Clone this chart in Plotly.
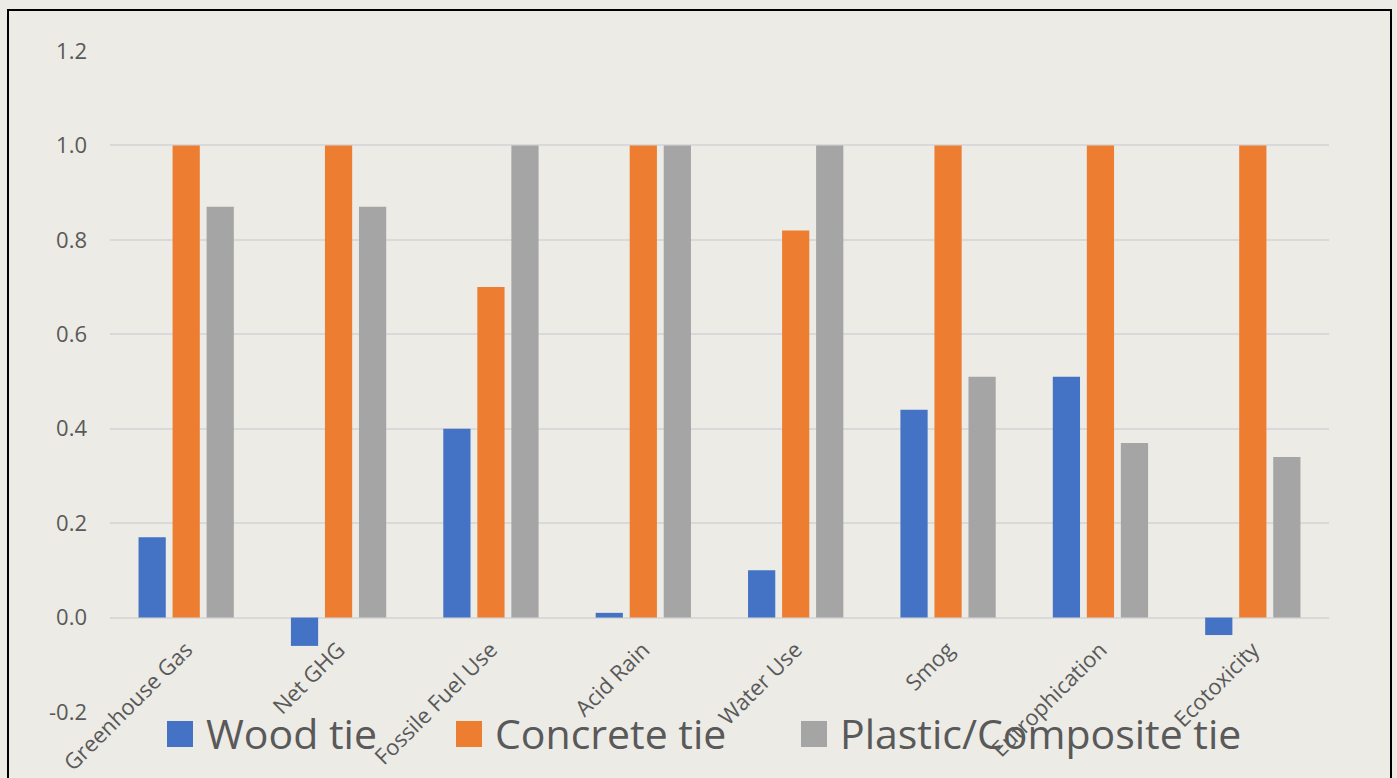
import plotly.graph_objects as go

categories = ["Greenhouse Gas", "Net GHG", "Fossile Fuel Use", "Acid Rain",
              "Water Use", "Smog", "Eutrophication", "Ecotoxicity"]
series_names = ["Wood tie", "Concrete tie", "Plastic/Composite tie"]
wood = [0.17, -0.06, 0.40, 0.01, 0.10, 0.44, 0.51, -0.037]
concrete = [1.0, 1.0, 0.70, 1.0, 0.82, 1.0, 1.0, 1.0]
plastic = [0.87, 0.87, 1.0, 1.0, 1.0, 0.51, 0.37, 0.34]
y_ticks = [-0.2, 0.0, 0.2, 0.4, 0.6, 0.8, 1.0, 1.2]
y_tick_text = [f"{v:.1f}" for v in y_ticks]

colors = ["#4472C4", "#ED7D31", "#A5A5A5"]
values = [wood, concrete, plastic]

W, H = 1397, 778
L, R, T, B = 110, 1329, 51, 712
pw, ph = R - L, B - T

def px_x(p):
    return (p - L) / pw

def px_y(p):
    return (B - p) / ph

fig = go.Figure()
for name, vals, c in zip(series_names, values, colors):
    fig.add_trace(go.Bar(x=categories, y=vals, name=name, marker_color=c,
                         marker_line_width=0, showlegend=False))

text_col = "#595959"
font_family = "Open Sans, Noto Sans, sans-serif"

shapes = [
    dict(type="rect", xref="paper", yref="paper",
         x0=px_x(8), x1=px_x(1391), y0=px_y(800), y1=px_y(10),
         line=dict(color="black", width=2), fillcolor="rgba(0,0,0,0)", layer="above"),
]
annotations = []
leg_x = [167, 456, 801]
for name, c, xs in zip(series_names, colors, leg_x):
    shapes.append(dict(type="rect", xref="paper", yref="paper",
                       x0=px_x(xs), x1=px_x(xs + 26), y0=px_y(747), y1=px_y(721),
                       line=dict(width=0), fillcolor=c, layer="above"))
    annotations.append(dict(text=name, xref="paper", yref="paper",
                            x=px_x(xs + 37), y=px_y(733), xanchor="left", yanchor="middle",
                            showarrow=False,
                            font=dict(size=41, color=text_col, family=font_family)))

zero_pos = (0 - (-0.2)) / 1.4

fig.update_layout(
    width=W, height=H,
    margin=dict(l=L, r=W - R, t=T, b=H - B, autoexpand=False),
    paper_bgcolor="#ECEBE6", plot_bgcolor="rgba(0,0,0,0)",
    barmode="group", bargap=0.33, bargroupgap=0.2,
    font=dict(family=font_family, color=text_col),
    showlegend=False,
    shapes=shapes, annotations=annotations,
    xaxis=dict(anchor="free", position=zero_pos, showgrid=False, showline=False,
               zeroline=False, tickangle=-45, tickfont=dict(size=22, color=text_col),
               ticks="", automargin=False, ticklabelstandoff=14),
    yaxis=dict(range=[-0.2, 1.2], tickvals=y_ticks, ticktext=y_tick_text,
               showgrid=True, gridcolor="#D9D9D9", gridwidth=1.5,
               zeroline=True, zerolinecolor="#D9D9D9", zerolinewidth=1.5,
               tickfont=dict(size=22, color=text_col), ticks="",
               ticklabelstandoff=22, automargin=False, showline=False),
)

fig.write_html("out.html", config={"displayModeBar": False},
               post_script="document.body.style.margin='0';document.body.style.background='#ECEBE6';")
